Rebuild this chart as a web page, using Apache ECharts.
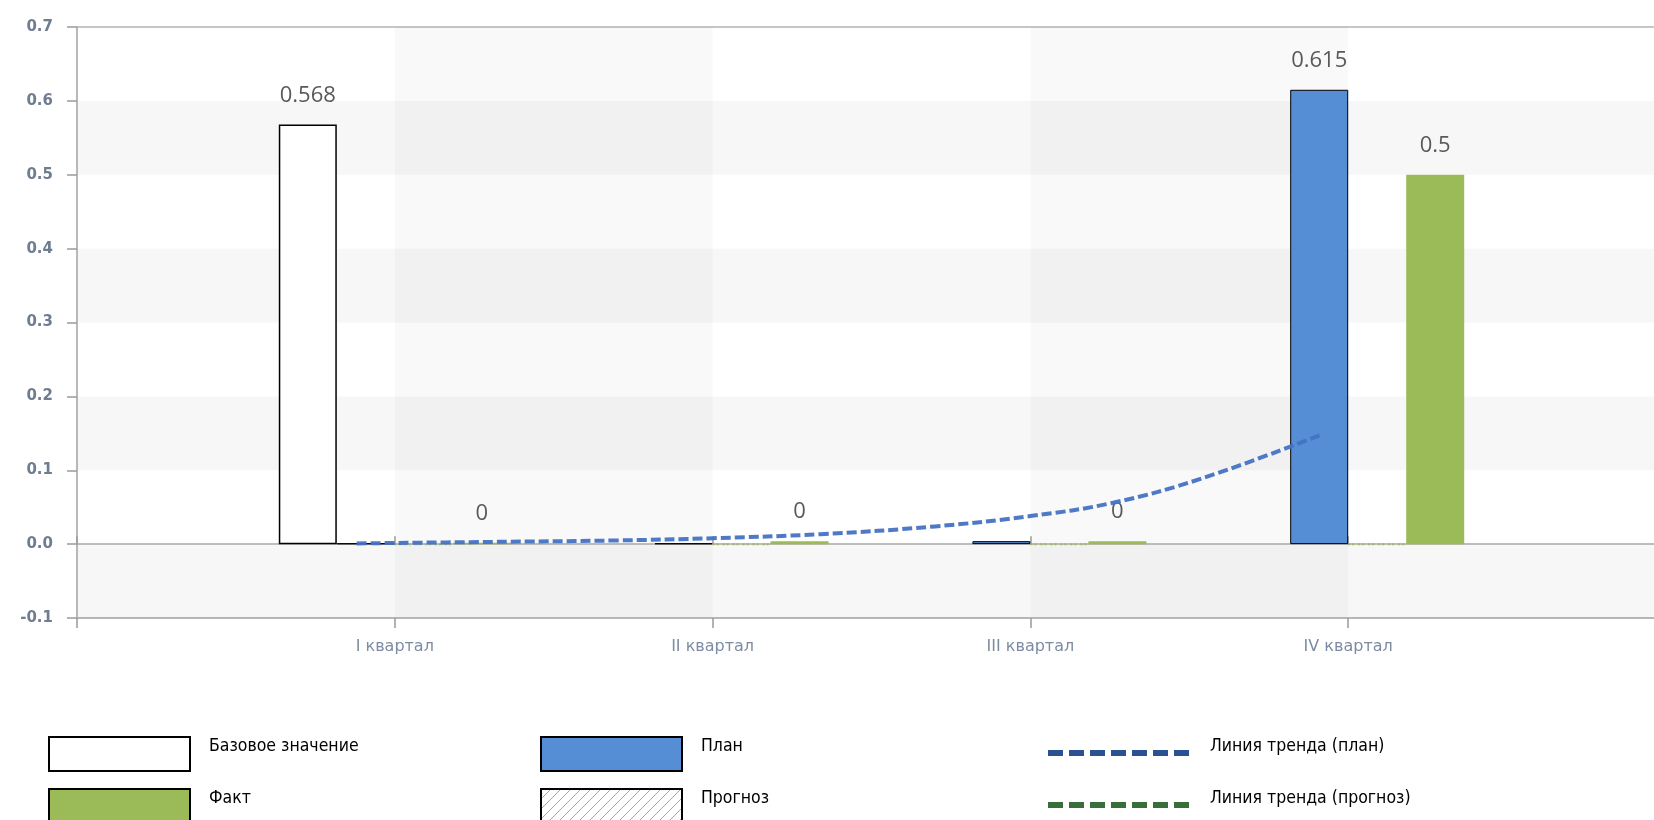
<!DOCTYPE html>
<html>
<head>
<meta charset="utf-8">
<script src="https://cdn.jsdelivr.net/npm/echarts@6/dist/echarts.min.js"></script>
<style>
  html, body { margin: 0; padding: 0; background: #fff; }
  #chart { width: 1654px; height: 820px; }
</style>
</head>
<body>
<div id="chart"></div>
<script>
// ---- data ----
var categories = ['', 'I квартал', 'II квартал', 'III квартал', 'IV квартал', ''];
var baseValues = [null, 0.568, null, null, null, null];
var planValues = [null, 0.001, 0.001, 0.004, 0.615, null];
var forecastValues = [null, 0, 0, 0, 0, null];
var factValues = [null, 0.002, 0.004, 0.004, 0.5, null];
// trend line (plan): [category position, value]
var planTrend = [
  [0.88, 0.001], [1.3, 0.003], [1.7, 0.005], [2.0, 0.008], [2.34, 0.0135],
  [2.7, 0.024], [3.0, 0.038], [3.26, 0.056], [3.54, 0.089], [3.92, 0.149]
];
var forecastTrend = [];
var yTicks = { min: -0.1, max: 0.7, interval: 0.1 };
var names = {
  base: 'Базовое значение', plan: 'План', fact: 'Факт', forecast: 'Прогноз',
  trendPlan: 'Линия тренда (план)', trendForecast: 'Линия тренда (прогноз)'
};

// hatch pattern for forecast
var hatch = document.createElement('canvas');
hatch.width = 10; hatch.height = 10;
(function () {
  var c = hatch.getContext('2d');
  c.fillStyle = '#ffffff'; c.fillRect(0, 0, 10, 10);
  c.strokeStyle = '#9bbb59'; c.lineWidth = 1;
  c.beginPath();
  c.moveTo(0, 10); c.lineTo(10, 0);
  c.moveTo(-5, 5); c.lineTo(5, -5);
  c.moveTo(5, 15); c.lineTo(15, 5);
  c.stroke();
})();

var chart = echarts.init(document.getElementById('chart'), null, { renderer: 'canvas' });

var legendFont = "'DejaVu Sans Condensed', 'Liberation Sans Narrow', sans-serif";
var dashPath = 'path://M0 0h15v6h-15z M21 0h15v6h-15z M42 0h15v6h-15z M63 0h15v6h-15z M84 0h15v6h-15z M105 0h15v6h-15z M126 0h15v6h-15z';

function legendText(padBottom, padLeft) {
  return {
    rich: {
      t: { fontFamily: legendFont, fontSize: 17.5, color: '#000', padding: [0, 0, padBottom, padLeft] }
    }
  };
}
function legendBox(name, left, top, style) {
  return {
    left: left, top: top, orient: 'horizontal', selectedMode: false,
    itemWidth: 141, itemHeight: 34, itemGap: 0, padding: 0,
    formatter: '{t|{name}}',
    textStyle: legendText(16, 14),
    data: [{ name: name, icon: 'rect', itemStyle: style }]
  };
}
function legendDash(name, left, top, color) {
  return {
    left: left, top: top, orient: 'horizontal', selectedMode: false,
    itemWidth: 141, itemHeight: 6, itemGap: 0, padding: 0,
    formatter: '{t|{name}}',
    textStyle: legendText(14, 16),
    data: [{ name: name, icon: dashPath, itemStyle: { color: color, borderWidth: 0 } }]
  };
}

var option = {
  animation: false,
  backgroundColor: '#ffffff',
  grid: {
    left: 77, top: 27, width: 1589, bottom: 202,
    outerBoundsMode: 'none', containLabel: false,
    show: true, borderColor: '#b4b4b4', borderWidth: 1.5, backgroundColor: 'transparent'
  },
  legend: [
    legendBox(names.base, 48, 736, { color: '#ffffff', borderColor: '#000', borderWidth: 2 }),
    legendBox(names.plan, 540, 736, { color: '#558ed5', borderColor: '#000', borderWidth: 2 }),
    legendBox(names.fact, 48, 788, { color: '#9bbb59', borderColor: '#000', borderWidth: 2 }),
    legendBox(names.forecast, 540, 788, { color: { image: hatch, repeat: 'repeat' }, borderColor: '#000', borderWidth: 2 }),
    legendDash(names.trendPlan, 1048, 737, '#2a5192'),
    legendDash(names.trendForecast, 1048, 789, '#376e3a')
  ],
  xAxis: [
    {
      type: 'category', data: categories, boundaryGap: false, position: 'bottom',
      axisLine: { onZero: false, lineStyle: { color: '#b4b4b4', width: 1.5 } },
      axisTick: { show: true, length: 10, lineStyle: { color: '#9a9a9a', width: 1.5 } },
      axisLabel: {
        interval: 0, margin: 21, color: '#7d8ca3', fontSize: 16,
        fontFamily: "'DejaVu Sans', sans-serif"
      },
      splitLine: { show: false },
      splitArea: { show: true, interval: 0, areaStyle: { color: ['rgba(0,0,0,0)', 'rgba(0,0,0,0.025)'] } }
    },
    {
      type: 'category', data: categories, boundaryGap: false, position: 'bottom',
      axisLine: { onZero: true, lineStyle: { color: '#a8a8a8', width: 1.5 } },
      axisTick: { show: true, inside: true, length: 8, lineStyle: { color: '#9a9a9a', width: 1.5 } },
      axisLabel: { show: false },
      splitLine: { show: false }
    },
    {
      type: 'value', min: 0, max: 5, show: false
    }
  ],
  yAxis: {
    type: 'value', min: yTicks.min, max: yTicks.max, interval: yTicks.interval,
    axisLine: { show: true, lineStyle: { color: '#b4b4b4', width: 1.5 } },
    axisTick: { show: true, length: 10, lineStyle: { color: '#9a9a9a', width: 1.5 } },
    axisLabel: {
      margin: 24, color: '#6f7d90', fontSize: 15, fontWeight: 'bold',
      fontFamily: "'DejaVu Sans', sans-serif",
      formatter: function (v) { return v.toFixed(1); }
    },
    splitLine: { show: false },
    splitArea: { show: true, areaStyle: { color: ['rgba(0,0,0,0.03)', 'rgba(0,0,0,0)'] } }
  },
  series: [
    {
      name: names.base, type: 'bar', data: baseValues, barWidth: 58, barGap: '0%',
      itemStyle: { color: '#ffffff', borderColor: '#000', borderWidth: 1.5 },
      label: {
        show: true, position: 'top', distance: 18, color: '#595959', fontSize: 22,
        fontFamily: "'Open Sans', sans-serif"
      }
    },
    {
      name: names.plan, type: 'bar', data: planValues, barWidth: 58, barGap: '0%',
      itemStyle: { color: '#558ed5', borderColor: '#000', borderWidth: 1 },
      label: {
        show: true, position: 'top', distance: 18, color: '#595959', fontSize: 22,
        fontFamily: "'Open Sans', sans-serif",
        formatter: function (p) { return p.value >= 0.01 ? p.value : ''; }
      }
    },
    {
      name: names.forecast, type: 'bar', data: forecastValues, barWidth: 58, barGap: '0%',
      itemStyle: { color: { image: hatch, repeat: 'repeat' }, borderColor: '#9bbb59', borderWidth: 2, borderType: [2, 8] }
    },
    {
      name: names.fact, type: 'bar', data: factValues, barWidth: 58, barGap: '0%',
      itemStyle: { color: '#9bbb59' },
      label: {
        show: true, position: 'top', distance: 18, color: '#595959', fontSize: 22,
        fontFamily: "'Open Sans', sans-serif",
        formatter: function (p) { return p.value >= 0.01 ? p.value : '0'; }
      }
    },
    {
      name: names.trendPlan, type: 'line', xAxisIndex: 2, data: planTrend,
      smooth: 0.4, symbol: 'none', z: 5,
      lineStyle: { color: '#4472c4', width: 4, type: [10, 4], opacity: 0.95 }
    },
    {
      name: names.trendForecast, type: 'line', xAxisIndex: 2, data: forecastTrend,
      symbol: 'none', lineStyle: { color: '#376e3a', width: 4, type: [10, 4] }
    }
  ]
};
chart.setOption(option);
</script>
</body>
</html>
